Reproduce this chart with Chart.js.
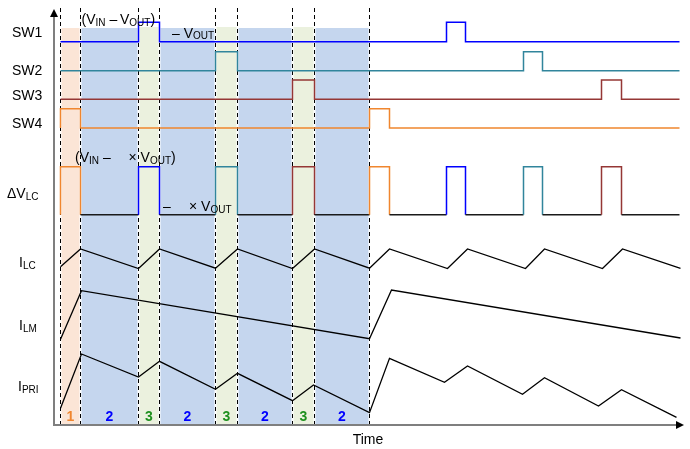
<!DOCTYPE html>
<html><head><meta charset="utf-8">
<script src="https://cdn.jsdelivr.net/npm/chart.js@4/dist/chart.umd.min.js"></script>
<style>html,body{margin:0;padding:0;background:#fff}#wrap{width:690px;height:449px}</style>
</head><body><div id="wrap"><canvas id="c" width="690" height="449"></canvas></div>
<script>
// ---------------- data (time in arbitrary units) ----------------
const phaseEdges  = [0, 20, 78, 99, 155, 177, 232, 254, 309];
const phaseLabels = ['1', '2', '3', '2', '3', '2', '3', '2'];
const phaseKinds  = ['c', 'f', 't', 'f', 't', 'f', 't', 'f'];
const traceEnd = 619;

// switch gate pulses [on, off]
const sw1Pulses = [[78, 99], [386, 405]];
const sw2Pulses = [[155, 177], [463, 482]];
const sw3Pulses = [[232, 254], [541, 561]];
const sw4Pulses = [[0, 20], [309, 329]];

// ΔV_LC pulses and the switch that drives each
const dvlcPulses = [[0, 20], [78, 99], [155, 177], [232, 254], [309, 329], [386, 405], [463, 482], [541, 561]];
const dvlcSource = ['SW4', 'SW1', 'SW2', 'SW3', 'SW4', 'SW1', 'SW2', 'SW3'];

// currents (relative units)
const ilcTime  = [0, 20, 78, 99, 155, 177, 232, 254, 309, 329, 387, 407, 465, 484, 542, 562, 620];
const ilcValue = [1.8, 19.5, 0, 19.5, 0.3, 19.5, 0, 19.5, 0.3, 19.5, 0, 19.5, 0, 19.5, 0, 19.5, 0.2];
const ilmTime  = [0, 21, 309, 331, 620];
const ilmValue = [0, 48.6, 0.6, 49.3, 1.3];
const ipriTime  = [0, 21, 78, 99, 155, 177, 232, 253, 309, 329, 384, 407, 462, 484, 538, 561, 616];
const ipriValue = [9, 63.3, 40.3, 56, 28, 44, 16.6, 32.3, 4.6, 59, 35, 51.3, 23, 39.6, 11.3, 27.6, 0];

// ---------------- layout / style ----------------
const FONT = '"Liberation Sans", Arial, sans-serif';
const COL = { SW1: '#0000ff', SW2: '#31859c', SW3: '#953735', SW4: '#f0862e' };
const rows = {
  SW1: { low: 383.3, amp: 19.4 }, SW2: { low: 354.3, amp: 19 },
  SW3: { low: 325.7, amp: 19.3 }, SW4: { low: 297, amp: 19.3 },
  DV: { low: 210.3, amp: 48 }, ILC: { base: 156.5 }, ILM: { base: 85.7 }, IPRI: { base: 7.7 }
};
const shadeFill = { c: '#fbe5d6', f: '#c5d6ee', t: '#ebf1de' };
const shadeTop = { c: 397, f: 397, t: 398 };
const labelCol = { '1': '#f0862e', '2': '#0000ff', '3': '#1e901e' };

function stepSeries(pulses, end, low, amp) {
  const pts = [{ x: 0, y: low }];
  pulses.forEach(([a, b]) => {
    pts.push({ x: a, y: low }, { x: a, y: low + amp }, { x: b, y: low + amp }, { x: b, y: low });
  });
  pts.push({ x: end, y: low });
  return pts;
}
function curve(ts, vs, base) { return ts.map((t, i) => ({ x: t, y: base + vs[i] })); }

const datasets = [];
// shading
for (let i = 0; i < phaseLabels.length; i++) {
  const k = phaseKinds[i];
  datasets.push({ data: [{ x: phaseEdges[i], y: shadeTop[k] }, { x: phaseEdges[i + 1], y: shadeTop[k] }],
    fill: 'origin', backgroundColor: shadeFill[k], borderWidth: 0, pointRadius: 0, order: 40 });
}
// dashed phase boundaries
const edgePts = [];
phaseEdges.forEach(t => { edgePts.push({ x: t, y: 0 }, { x: t, y: 417 }, { x: t, y: null }); });
datasets.push({ data: edgePts, borderColor: '#ffffff', borderWidth: 2, pointRadius: 0, order: 31, clip: false, spanGaps: false });
datasets.push({ data: edgePts, borderColor: '#000000', borderWidth: 1, borderDash: [4, 3], pointRadius: 0, order: 30, clip: false, spanGaps: false });
// switch signals
[['SW1', sw1Pulses], ['SW2', sw2Pulses], ['SW3', sw3Pulses], ['SW4', sw4Pulses]].forEach(([n, p]) => {
  datasets.push({ data: stepSeries(p, traceEnd, rows[n].low, rows[n].amp), borderColor: COL[n], borderWidth: 1.5,
    pointRadius: 0, borderJoinStyle: 'miter', order: 5, clip: false });
});
// ΔV_LC
const dvLow = rows.DV.low;
datasets.push({ data: stepSeries(dvlcPulses, traceEnd, dvLow, rows.DV.amp), borderColor: '#1a1a1a', borderWidth: 1.5,
  pointRadius: 0, borderJoinStyle: 'miter', order: 5, clip: false,
  segment: { borderColor: ctx => {
    const a = ctx.p0.parsed, b = ctx.p1.parsed;
    if (Math.abs(a.y - dvLow) < 0.01 && Math.abs(b.y - dvLow) < 0.01) return '#1a1a1a';
    for (let i = 0; i < dvlcPulses.length; i++) {
      if (a.x >= dvlcPulses[i][0] - 0.01 && a.x <= dvlcPulses[i][1] + 0.01) return COL[dvlcSource[i]];
    }
    return '#1a1a1a';
  } } });
// currents
datasets.push({ data: curve(ilcTime, ilcValue, rows.ILC.base), borderColor: '#000', borderWidth: 1.3, pointRadius: 0, order: 5 });
datasets.push({ data: curve(ilmTime, ilmValue, rows.ILM.base), borderColor: '#000', borderWidth: 1.3, pointRadius: 0, order: 5 });
datasets.push({ data: curve(ipriTime, ipriValue, rows.IPRI.base), borderColor: '#000', borderWidth: 1.3, pointRadius: 0, order: 5 });

// ---------------- text ----------------
function drawRuns(ctx, x, y, runs) {
  runs.forEach(r => {
    if (r.x !== undefined) x = r.x;
    if (r.t === undefined) return;
    ctx.font = (r.b ? 'bold ' : '') + (r.s ? '10px ' : '14px ') + FONT;
    ctx.fillText(r.t, x, y + (r.s ? 1.5 : 0));
    x += ctx.measureText(r.t).width;
  });
}
const textPlugin = {
  id: 'texts',
  afterDatasetsDraw(chart) {
    const ctx = chart.ctx, xs = chart.scales.x, ca = chart.chartArea;
    ctx.save();
    // axes
    ctx.strokeStyle = '#7f7f7f'; ctx.lineWidth = 2;
    ctx.beginPath(); ctx.moveTo(ca.left, ca.bottom + 1); ctx.lineTo(ca.left, ca.top + 7); ctx.stroke();
    ctx.beginPath(); ctx.moveTo(ca.left - 1, ca.bottom); ctx.lineTo(ca.right - 7, ca.bottom); ctx.stroke();
    ctx.fillStyle = '#000';
    ctx.beginPath(); ctx.moveTo(ca.left, ca.top - 1); ctx.lineTo(ca.left - 4, ca.top + 7); ctx.lineTo(ca.left + 4, ca.top + 7); ctx.closePath(); ctx.fill();
    ctx.beginPath(); ctx.moveTo(ca.right + 1, ca.bottom); ctx.lineTo(ca.right - 7, ca.bottom - 4); ctx.lineTo(ca.right - 7, ca.bottom + 4); ctx.closePath(); ctx.fill();

    ctx.textBaseline = 'alphabetic'; ctx.textAlign = 'left'; ctx.fillStyle = '#000';
    // row labels
    drawRuns(ctx, 12, 36.7, [{ t: 'SW1' }]);
    drawRuns(ctx, 12, 75.3, [{ t: 'SW2' }]);
    drawRuns(ctx, 12, 100, [{ t: 'SW3' }]);
    drawRuns(ctx, 12, 128.3, [{ t: 'SW4' }]);
    drawRuns(ctx, 7, 198, [{ t: 'ΔV' }, { t: 'LC', s: 1 }]);
    drawRuns(ctx, 19, 267, [{ t: 'I' }, { t: 'LC', s: 1 }]);
    drawRuns(ctx, 19, 330, [{ t: 'I' }, { t: 'LM', s: 1 }]);
    drawRuns(ctx, 18, 391, [{ t: 'I' }, { t: 'PRI', s: 1 }]);
    // annotations
    drawRuns(ctx, 81.5, 24, [{ t: '(V' }, { t: 'IN', s: 1 }, { t: ' –\u2009' }, { t: 'V' }, { t: 'OUT', s: 1 }, { t: ')' }]);
    drawRuns(ctx, 172, 37.5, [{ t: '– V' }, { t: 'OUT', s: 1 }]);
    drawRuns(ctx, 75, 162, [{ t: '(V' }, { t: 'IN', s: 1 }, { t: ' –' }, { x: 128.5, t: '× V' }, { t: 'OUT', s: 1 }, { t: ')' }]);
    drawRuns(ctx, 163, 211, [{ t: '–' }, { x: 189, t: '× V' }, { t: 'OUT', s: 1 }]);
    // phase numbers
    ctx.textAlign = 'center';
    ctx.font = 'bold 14px ' + FONT;
    phaseLabels.forEach((l, i) => {
      const cx = (xs.getPixelForValue(phaseEdges[i]) + xs.getPixelForValue(phaseEdges[i + 1])) / 2;
      ctx.fillStyle = labelCol[l];
      ctx.fillText(l, cx, 420.7);
    });
    ctx.fillStyle = '#000';
    ctx.font = '14px ' + FONT;
    ctx.fillText('Time', 368, 444);
    ctx.restore();
  }
};

new Chart(document.getElementById('c'), {
  type: 'line',
  data: { datasets },
  options: {
    responsive: false, animation: false, events: [],
    layout: { padding: { left: 54, right: 7, top: 10, bottom: 24 } },
    plugins: { legend: { display: false }, tooltip: { enabled: false } },
    elements: { line: { tension: 0 } },
    scales: {
      x: { type: 'linear', min: -6.5, max: 622.5, display: false },
      y: { type: 'linear', min: 0, max: 415, display: false }
    }
  },
  plugins: [textPlugin]
});
</script>
</body></html>
